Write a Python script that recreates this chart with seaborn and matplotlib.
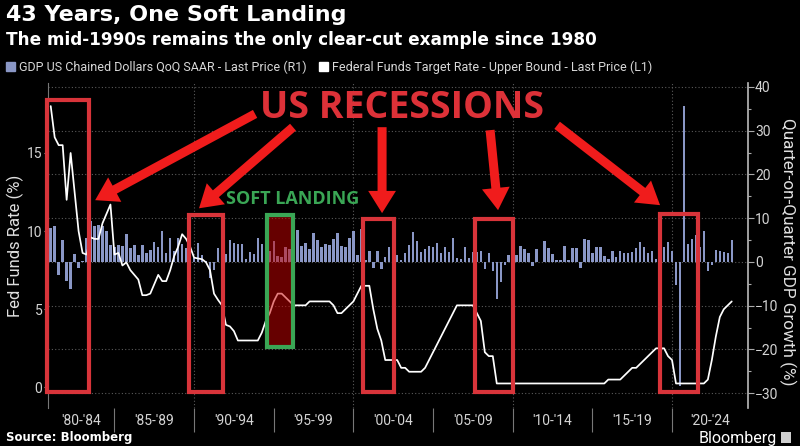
# -*- coding:utf-8 -*-
import matplotlib
matplotlib.use("Agg")
import matplotlib.pyplot as plt
import seaborn as sns
import pandas as pd
from matplotlib.patches import Rectangle, Patch
from matplotlib.ticker import MultipleLocator, FixedLocator, NullFormatter, FixedFormatter

# quarterly data, 1980Q4 .. 2023Q3 (plotted at quarter end)
quarters = pd.period_range("1980Q4", "2023Q3", freq="Q")

gdp_qoq = [
    7.8,
    8.1, -2.9, 4.9, -4.3,     # 1981
    -6.1, 1.8, -1.5, 0.2,     # 1982
    5.4, 9.4, 8.1, 8.5,       # 1983
    8.2, 7.1, 3.9, 3.3,       # 1984
    3.9, 3.6, 6.3, 3.1,       # 1985
    3.9, 1.6, 3.9, 2.0,       # 1986
    2.8, 4.5, 3.5, 7.0,       # 1987
    2.1, 5.4, 2.4, 5.4,       # 1988
    4.1, 3.1, 3.0, 0.8,       # 1989
    4.4, 1.5, 0.3, -3.6,      # 1990
    -1.9, 3.2, 2.0, 1.9,      # 1991
    4.9, 4.4, 4.0, 4.2,       # 1992
    0.7, 2.3, 1.9, 5.5,       # 1993
    4.0, 5.5, 2.4, 4.7,       # 1994
    1.4, 1.2, 3.5, 3.0,       # 1995
    2.8, 7.2, 3.7, 4.3,       # 1996
    2.9, 6.7, 5.1, 3.4,       # 1997
    4.0, 3.8, 5.3, 6.7,       # 1998
    3.7, 3.4, 5.4, 7.0,       # 1999
    1.5, 7.5, 0.4, 2.4,       # 2000
    -1.3, 2.5, -1.6, 1.1,     # 2001
    3.4, 2.5, 1.6, 0.5,       # 2002
    2.1, 3.8, 6.9, 4.8,       # 2003
    2.3, 3.0, 3.7, 3.5,       # 2004
    4.3, 2.1, 3.4, 2.3,       # 2005
    5.5, 0.9, 0.6, 3.5,       # 2006
    0.9, 2.3, 2.2, 2.5,       # 2007
    -1.7, 2.1, -2.1, -8.5,    # 2008
    -4.6, -0.7, 1.5, 4.5,     # 2009
    1.5, 3.7, 3.0, 2.0,       # 2010
    -1.0, 2.9, -0.1, 4.7,     # 2011
    3.2, 1.7, 0.5, 0.5,       # 2012
    3.6, 0.5, 3.2, 3.2,       # 2013
    -1.4, 5.2, 5.0, 2.1,      # 2014
    3.3, 3.3, 1.3, 0.6,       # 2015
    2.4, 1.2, 2.4, 2.0,       # 2016
    2.0, 2.3, 3.2, 4.6,       # 2017
    3.3, 2.1, 2.5, 0.6,       # 2018
    2.2, 3.4, 4.6, 2.6,       # 2019
    -5.3, -28.4, 35.6, 4.2,   # 2020
    5.2, 6.2, 3.3, 7.0,       # 2021
    -2.0, -0.6, 2.7, 2.6,     # 2022
    2.2, 2.1, 4.9,            # 2023
]

fed_upper = [
    18.0,
    16.0, 15.5, 15.5, 12.0,   # 1981
    15.0, 12.5, 10.0, 8.6,    # 1982
    8.5, 9.6, 9.5, 9.5,       # 1983
    10.5, 11.1, 11.7, 8.5,    # 1984
    8.6, 7.8, 8.0, 7.5,       # 1985
    7.2, 6.9, 5.9, 5.9,       # 1986
    6.0, 6.6, 7.2, 6.8,       # 1987
    6.8, 7.5, 8.4, 9.0,       # 1988
    9.8, 9.5, 9.0, 8.3,       # 1989
    8.25, 8.2, 8.0, 7.5,      # 1990
    6.0, 5.6, 5.25, 4.0,      # 1991
    3.9, 3.6, 3.0, 3.0,       # 1992
    3.0, 3.0, 3.0, 3.0,       # 1993
    3.5, 4.25, 4.75, 5.5,     # 1994
    6.0, 6.0, 5.75, 5.5,      # 1995
    5.25, 5.25, 5.25, 5.25,   # 1996
    5.5, 5.5, 5.5, 5.5,       # 1997
    5.5, 5.5, 5.25, 4.75,     # 1998
    4.75, 5.0, 5.25, 5.5,     # 1999
    6.0, 6.5, 6.5, 6.5,       # 2000
    5.0, 3.75, 3.0, 1.75,     # 2001
    1.75, 1.75, 1.75, 1.25,   # 2002
    1.25, 1.0, 1.0, 1.0,      # 2003
    1.0, 1.25, 1.75, 2.25,    # 2004
    2.75, 3.25, 3.75, 4.25,   # 2005
    4.75, 5.25, 5.25, 5.25,   # 2006
    5.25, 5.25, 4.75, 4.25,   # 2007
    2.25, 2.0, 2.0, 0.25,     # 2008
    0.25, 0.25, 0.25, 0.25,   # 2009
    0.25, 0.25, 0.25, 0.25,   # 2010
    0.25, 0.25, 0.25, 0.25,   # 2011
    0.25, 0.25, 0.25, 0.25,   # 2012
    0.25, 0.25, 0.25, 0.25,   # 2013
    0.25, 0.25, 0.25, 0.25,   # 2014
    0.25, 0.25, 0.25, 0.5,    # 2015
    0.5, 0.5, 0.5, 0.75,      # 2016
    1.0, 1.25, 1.25, 1.5,     # 2017
    1.75, 2.0, 2.25, 2.5,     # 2018
    2.5, 2.5, 2.0, 1.75,      # 2019
    0.25, 0.25, 0.25, 0.25,   # 2020
    0.25, 0.25, 0.25, 0.25,   # 2021
    0.5, 1.75, 3.25, 4.5,     # 2022
    5.0, 5.25, 5.5,           # 2023
]

period_starts = [1980, 1985, 1990, 1995, 2000, 2005, 2010, 2015, 2020]
period_labels = ["'80-'84", "'85-'89", "'90-'94", "'95-'99", "'00-'04",
                 "'05-'09", "'10-'14", "'15-'19", "'20-'24"]

# highlighted periods (years) and box tops on the fed funds scale
recessions = [(1980.78, 1983.41), (1989.70, 1991.80), (2000.63, 2002.56),
              (2007.64, 2010.04), (2019.25, 2021.66)]
recession_tops = [18.4, 11.05, 10.8, 10.8, 11.1]
soft_landing = (1994.60, 1996.20)
soft_landing_top = 11.0

BAR = "#8a97c6"
RED_BOX = "#d8343a"
RED_ARROW = "#f01c1c"
RED_TEXT = "#dd3138"
GREEN = "#3aa655"
TICK = "#d4d4d4"

df = pd.DataFrame({
    "t": quarters.year + quarters.quarter / 4.0,
    "gdp": gdp_qoq,
    "fed": fed_upper,
})

sns.set_theme(style="ticks", rc={
    "figure.facecolor": "black", "axes.facecolor": "black",
    "savefig.facecolor": "black", "text.color": "white",
    "axes.labelcolor": "#e0e0e0", "xtick.color": TICK, "ytick.color": TICK,
})
plt.rcParams["font.family"] = ["Roboto", "DejaVu Sans"]

fig = plt.figure(figsize=(8, 4.46), dpi=100)
ax = fig.add_axes([0.06, 0.0852, 0.875, 0.7288])
ax2 = ax.twinx()

# bars (right axis) and line (left axis)
sns.barplot(data=df, x="t", y="gdp", ax=ax2, native_scale=True, color=BAR,
            saturation=1, width=0.62, errorbar=None, linewidth=0)
sns.lineplot(data=df, x="t", y="fed", ax=ax, color="white", linewidth=1.25)

ax.set_zorder(ax2.get_zorder() + 1)
ax.patch.set_visible(False)
ax2.patch.set_visible(False)

ax.set_xlim(1980.83, 2024.77)
ax.set_ylim(-1.32, 19.48)
ax2.set_ylim(-33.4, 40.9)

# grid
ax2.set_axisbelow(True)
ax2.yaxis.grid(True, which="major", linestyle=(0, (1, 2)), color="#5a5a5a", lw=0.8)
for yr in period_starts[2::2]:
    ax2.axvline(yr, linestyle=(0, (1, 2)), color="#5a5a5a", lw=0.8, zorder=0)

# x axis: separators as major ticks, period labels as minor ticks
x0, x1 = ax.get_xlim()
centers = [(max(s, x0) + min(s + 5, x1)) / 2 for s in period_starts]
ax.xaxis.set_major_locator(FixedLocator(period_starts[1:]))
ax.xaxis.set_major_formatter(NullFormatter())
ax.xaxis.set_minor_locator(FixedLocator(centers))
ax.xaxis.set_minor_formatter(FixedFormatter(period_labels))
ax.tick_params(axis="x", which="major", length=17, width=0.8, color="#777777")
ax.tick_params(axis="x", which="minor", length=0, pad=4, labelsize=10, labelcolor=TICK)
ax.set_xlabel("")

ax.set_yticks([0, 5, 10, 15])
ax.tick_params(axis="y", length=3, width=0.8, color="#aaaaaa", labelsize=10, pad=1)
ax2.set_yticks(range(-30, 41, 10))
ax2.yaxis.set_minor_locator(MultipleLocator(5))
ax2.tick_params(axis="y", which="major", length=4, width=0.8, color="#aaaaaa", labelsize=10, pad=1)
ax2.tick_params(axis="y", which="minor", length=2.5, width=0.8, color="#aaaaaa")

for s in ["top", "right", "bottom"]:
    ax.spines[s].set_visible(False)
ax.spines["left"].set_color("#777777")
ax.spines["left"].set_linewidth(0.8)
for s in ["top", "left", "bottom"]:
    ax2.spines[s].set_visible(False)
ax2.spines["right"].set_color("#bbbbbb")
ax2.spines["right"].set_linewidth(1.2)

ax.set_ylabel("Fed Funds Rate (%)", fontsize=12)
ax.yaxis.set_label_coords(-0.034, 0.5)
ax2.set_ylabel("Quarter-on-Quarter GDP Growth (%)", fontsize=12.3, rotation=270, va="center")
ax2.yaxis.set_label_coords(1.057, 0.48)

# annotations
for (s, e), top in zip(recessions, recession_tops):
    ax.add_patch(Rectangle((s, -0.3), e - s, top + 0.3, fill=False,
                           ec=RED_BOX, lw=3, clip_on=False, zorder=5))
ax.add_patch(Rectangle((soft_landing[0], 2.6), soft_landing[1] - soft_landing[0],
                       soft_landing_top - 2.6, fc=(0.8, 0.0, 0.0, 0.5),
                       ec=GREEN, lw=3, zorder=5))

arrow_tails = [(1993.83, 17.5), (1996.21, 16.65), (2001.80, 16.65), (2008.58, 16.46), (2012.79, 16.77)]
arrow_tips = [(1983.79, 11.98), (1990.31, 11.46), (2001.80, 11.15), (2009.08, 11.34), (2019.25, 11.66)]
for tail, tip in zip(arrow_tails, arrow_tips):
    ax.annotate("", xy=tip, xytext=tail, zorder=6,
                arrowprops=dict(arrowstyle="simple,head_width=2.0,head_length=1.6,tail_width=0.65",
                                color=RED_ARROW, lw=0, mutation_scale=10,
                                shrinkA=0, shrinkB=0))

ax.text(2003.06, 17.86, "US RECESSIONS", ha="center", va="center", fontsize=27,
        family=["Open Sans", "DejaVu Sans"], weight="bold", color=RED_TEXT, zorder=7)
ax.text(1996.21, 12.04, "SOFT LANDING", ha="center", va="center", fontsize=13,
        family=["Open Sans", "DejaVu Sans"], weight="bold", color=GREEN, zorder=7)

# titles, legend, footer
fig.text(6 / 800, 1 - 5 / 446, "43 Years, One Soft Landing", fontsize=16,
         weight="bold", family="DejaVu Sans", va="top", color="white")
fig.text(6 / 800, 1 - 31 / 446, "The mid-1990s remains the only clear-cut example since 1980",
         fontsize=12.2, weight="bold", family="DejaVu Sans", va="top", color="white")

handles = [Patch(color=BAR), Patch(color="white")]
labels = ["GDP US Chained Dollars QoQ SAAR - Last Price (R1)",
          "Federal Funds Target Rate - Upper Bound - Last Price (L1)"]
fig.legend(handles, labels, loc="center left", bbox_to_anchor=(0.008, 1 - 67 / 446),
           ncol=2, frameon=False, fontsize=9, handlelength=0.7, handleheight=0.7,
           handletextpad=0.3, columnspacing=1.0, labelcolor="#d8d8d8",
           borderpad=0, borderaxespad=0)

fig.text(6 / 800, 1 - 437 / 446, "Source: Bloomberg", fontsize=8.5, weight="bold",
         family="DejaVu Sans", va="center", color="white")
fig.text(777 / 800, 1 - 438 / 446, "Bloomberg", fontsize=11.5, ha="right",
         va="center", color="white")
fig.patches.append(Rectangle((781 / 800, 1 - 443 / 446), 10 / 800, 11 / 446,
                             transform=fig.transFigure, fc="#cfcfcf", ec="none"))

plt.savefig("out.png", dpi=100, facecolor="black")
